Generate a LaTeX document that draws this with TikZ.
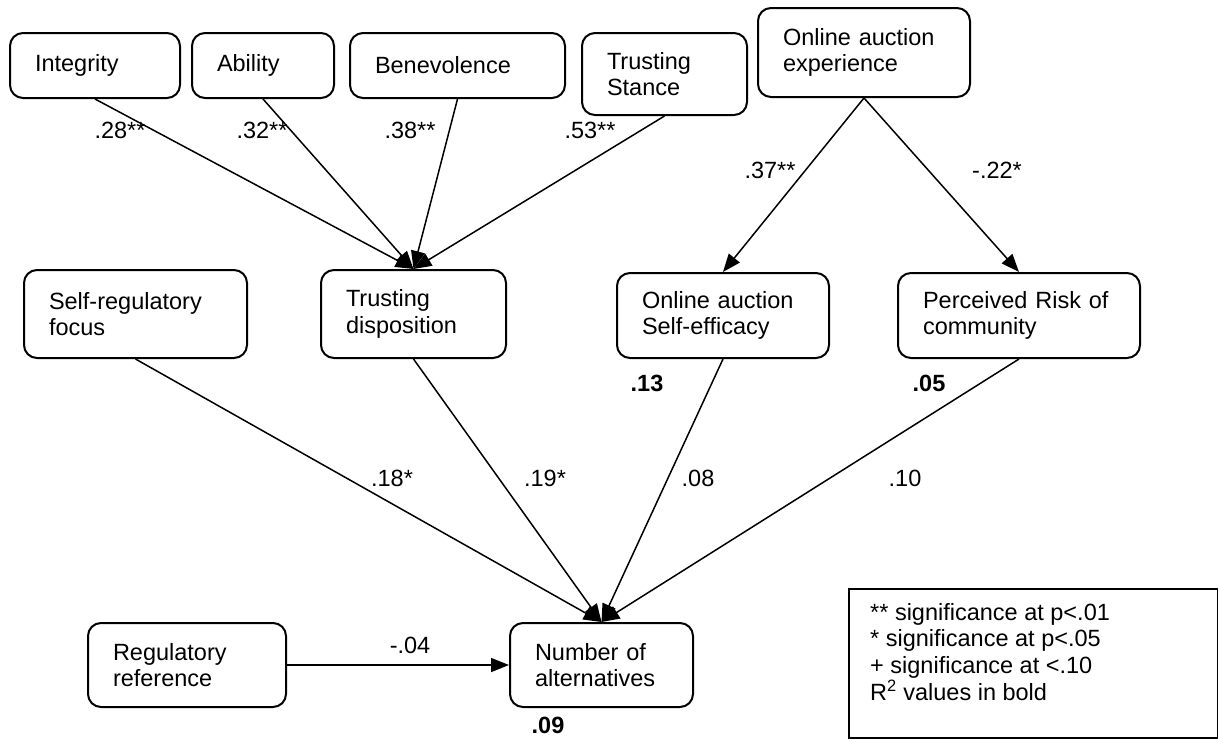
\documentclass[tikz,border=0pt]{standalone}
\usepackage{fontspec}
\setmainfont{Liberation Sans}
\usetikzlibrary{arrows.meta}
\begin{document}
\begin{tikzpicture}[x=1pt,y=-1pt,
  font=\fontsize{23.5}{26.5}\selectfont,
  box/.style={draw, line width=2pt, rounded corners=13pt, align=left, inner xsep=25pt, inner ysep=0pt},
  conn/.style={line width=1.5pt, -{Triangle[length=18pt,width=14pt]}},
  lab/.style={inner sep=0pt},
  rsq/.style={inner sep=0pt, font=\fontsize{23.5}{26.5}\selectfont\bfseries}]
\useasboundingbox (0,0) rectangle (1218,742);
% top row
\node[box, text width=120pt, minimum height=65pt] (int) at (95,65.5) {Integrity};
\node[box, text width=92pt, minimum height=65pt] (ab) at (263,65.5) {Ability};
\node[box, text width=165pt, minimum height=65pt] (ben) at (457.5,65.5) {Benevolence};
\node[box, text width=115pt, minimum height=82pt] (ts) at (664.5,74) {Trusting\\Stance};
\node[box, text width=162pt, minimum height=89pt] (oae) at (864,52.5) {Online~auction\\experience};
% middle row
\node[box, text width=173pt, minimum height=88pt] (srf) at (135.5,314) {Self-regulatory\\focus};
\node[box, text width=135pt, minimum height=88pt] (td) at (413.5,314) {Trusting\\disposition};
\node[box, text width=162pt, minimum height=85pt] (oase) at (723,315.5) {Online~auction\\Self-efficacy};
\node[box, text width=192pt, minimum height=85pt] (pr) at (1019,315.5) {Perceived~Risk~of\\community};
% bottom row
\node[box, text width=148pt, minimum height=84pt] (rr) at (187,665) {Regulatory\\reference};
\node[box, text width=133pt, minimum height=84pt] (na) at (601.5,665) {Number~of\\alternatives};
% legend
\node[draw, line width=2pt, minimum width=369pt, minimum height=149pt, inner sep=0pt, anchor=north west] (legbox) at (848,588) {};
\node[inner sep=0pt, anchor=north west, align=left, font=\fontsize{23.5}{26.7}\selectfont] (legtext) at (870,603)
  {** significance at p<.01\\* significance at p<.05\\+ significance at <.10\\R\textsuperscript{2} values in bold};
% connectors
\draw[conn] (int.south) -- (td.north);
\draw[conn] (ab.south) -- (td.north);
\draw[conn] (ben.south) -- (td.north);
\draw[conn] (ts.south) -- (td.north);
\draw[conn] (oae.south) -- (oase.north);
\draw[conn] (oae.south) -- (pr.north);
\draw[conn] (srf.south) -- (na.north);
\draw[conn] (td.south) -- (na.north);
\draw[conn] (oase.south) -- (na.north);
\draw[conn] (pr.south) -- (na.north);
\draw[conn] (rr.east) -- (na.west);
% labels
\node[lab] (l1) at (120,130) {.28**};
\node[lab] (l2) at (262,130) {.32**};
\node[lab] (l3) at (410,130) {.38**};
\node[lab] (l4) at (590,130) {.53**};
\node[lab] (l5) at (770,170) {.37**};
\node[lab] (l6) at (997,170) {-.22*};
\node[lab] (l7) at (392,478) {.18*};
\node[lab] (l8) at (545,478) {.19*};
\node[lab] (l9) at (698,478) {.08};
\node[lab] (l10) at (905,478) {.10};
\node[lab] (l11) at (410,645) {-.04};
\node[rsq] (r1) at (647,383) {.13};
\node[rsq] (r2) at (929,383) {.05};
\node[rsq] (r3) at (548,725) {.09};
\end{tikzpicture}
\end{document}
